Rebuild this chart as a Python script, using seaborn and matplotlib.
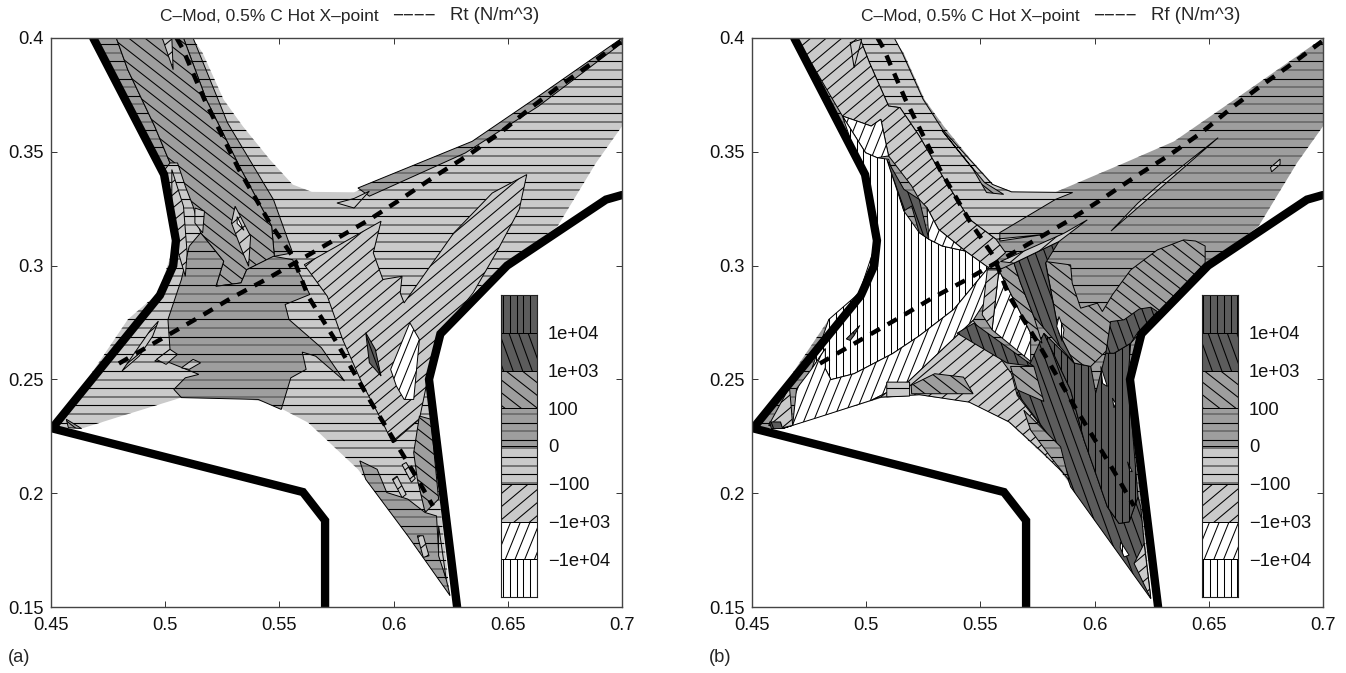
import numpy as np
import matplotlib
matplotlib.use('Agg')
import matplotlib.pyplot as plt
from matplotlib.collections import LineCollection
from matplotlib.patches import Polygon
from matplotlib.transforms import IdentityTransform
import pandas as pd
import seaborn as sns

# ---- axis and legend text
x_ticks = [0.45, 0.5, 0.55, 0.6, 0.65, 0.7]
y_ticks = [0.15, 0.2, 0.25, 0.3, 0.35, 0.4]
x_tick_labels = ['0.45', '0.5', '0.55', '0.6', '0.65', '0.7']
y_tick_labels = ['0.15', '0.2', '0.25', '0.3', '0.35', '0.4']
legend_labels = ['\u22121e+04', '\u22121e+03', '\u2212100', '0', '100', '1e+03', '1e+04']

# ---- wall and separatrix
wall_in = [(.4685, .4), (.4995, .34), (.5047, .311), (.5035, .3), (.4977, .287), (.4505, .2285),
           (.5603, .2005), (.57, .188), (.57, .15)]
wall_out = [(.6278, .15), (.6155, .25), (.6205, .27), (.6497, .30), (.693, .329), (.70, .331)]
sep_leg1 = [(.505, .4), (.5075, .3956), (.5172, .3729), (.5323, .3422), (.5458, .3187), (.5558, .3041),
            (.5626, .2865), (.5693, .2756), (.5743, .2675), (.5827, .2529), (.5911, .2383), (.6004, .223),
            (.6088, .2091), (.6172, .1944)]
sep_leg2 = [(.6995, .3985), (.6869, .389), (.6726, .3788), (.66, .3693), (.6466, .3583), (.6331, .3488),
            (.618, .3392), (.6029, .329), (.5894, .3202), (.5743, .3114), (.5592, .3026), (.5441, .2939),
            (.529, .2858), (.5155, .2777), (.5004, .269), (.4928, .2646), (.4777, .2558)]

# ---- plasma domain, same in both panels
domain = [(.4685, .4), (.512, .4), (.5164, .3934), (.5256, .3729), (.534, .3612), (.5458, .3466), (.5558, .3356),
          (.5642, .3324), (.5827, .3322), (.613, .3451), (.6348, .3546), (.6634, .3744), (.7, .4), (.7, .3612),
          (.6886, .3451), (.6718, .3173), (.65, .3012), (.6348, .288), (.6197, .269), (.6146, .2485), (.6247, .155),
          (.6062, .1813), (.5844, .2105), (.5626, .231), (.5458, .2398), (.5239, .243), (.5071, .242), (.4786, .2332),
          (.4634, .2284), (.4517, .2288), (.4836, .2763), (.497, .288), (.5038, .3085), (.4987, .3392)]

# ---- panel (a) Rt regions
rt_top_strip = [(.5844, .3341), (.6344, .3546), (.6634, .3744), (.7, .4), (.7, .3978), (.6634, .37), (.6314, .3495),
                (.5894, .3305)]
rt_sliver = [(.5752, .3275), (.5827, .3295), (.5894, .3327), (.5827, .3253)]
rt_wall_strip = [(.4685, .4), (.4786, .4), (.4836, .3861), (.4954, .3612), (.5021, .3451), (.4987, .3407)]
rt_a = [(.4786, .4), (.508, .4), (.518, .3729), (.5332, .3422), (.5466, .3173), (.5478, .3041), (.5357, .2982),
        (.5332, .2924), (.5222, .2909), (.5256, .3019), (.5155, .3144), (.5122, .3261), (.5088, .3349), (.5054, .3451),
        (.5021, .3451), (.4954, .3612), (.4836, .3861)]
rt_thin = [(.508, .4), (.5122, .4), (.5273, .3627), (.5474, .329), (.5558, .3056), (.5478, .3041), (.5466, .3173),
           (.5332, .3422), (.518, .3729)]
rt_b = [(.5474, .3041), (.5558, .3026), (.5633, .2873), (.5525, .2829), (.5542, .2763), (.5684, .2639), (.5785, .2493),
        (.5659, .2602), (.56, .262), (.5617, .2544), (.555, .2507), (.5508, .2368), (.5407, .2412), (.5071, .242),
        (.5038, .2456), (.5088, .2507), (.5147, .2522), (.5021, .2573), (.4954, .258), (.5021, .2632), (.5012, .2763),
        (.5071, .2939), (.5105, .3085), (.5155, .3144), (.5256, .3019), (.5222, .2909), (.5332, .2924), (.5357, .2982)]
rt_c = [(.5609, .3004), (.5945, .3195), (.5911, .3056), (.5953, .2939), (.6037, .2953), (.6029, .288), (.6046, .2836),
        (.6264, .3144), (.6432, .3319), (.6583, .34), (.655, .3246), (.6449, .3056), (.6348, .288), (.6197, .269),
        (.6146, .2485), (.6113, .2325), (.5995, .2222), (.5945, .2325), (.5861, .2485), (.5777, .2675), (.571, .2865)]
rt_white = [(.5987, .2544), (.6071, .2749), (.6113, .2675), (.6088, .2412), (.6046, .2412), (.6012, .2471)]
rt_dark = [(.5878, .2705), (.592, .2632), (.5945, .2515), (.5894, .2573)]
rt_strip_d = [(.6113, .2339), (.6163, .2325), (.6197, .1974), (.6138, .1915), (.6104, .2061), (.6088, .2178)]
rt_e = [(.5852, .2142), (.5928, .2105), (.597, .2003), (.6062, .1974), (.6138, .1915), (.6188, .19), (.6197, .174),
        (.623, .1623), (.6247, .155), (.6062, .1813), (.5878, .2061)]
rt_tip_strip = [(.6197, .1857), (.6214, .174), (.623, .1623), (.6197, .1725)]
rt_p1 = [(.5029, .3422), (.508, .3261), (.5096, .3056), (.5088, .2953), (.5054, .307), (.5029, .3261)]
rt_p2 = [(.5306, .3261), (.5374, .3129), (.5365, .2997), (.534, .3056), (.529, .3187)]
rt_p2w = [(.5315, .3215), (.5345, .3155), (.5315, .3185)]
rt_p3 = [(.513, .3253), (.5172, .3239), (.5164, .3144), (.513, .3187)]
rt_p4 = [(.4962, .2588), (.5021, .2632), (.5054, .261), (.5004, .2566)]
rt_p5 = [(.5071, .2551), (.5122, .2588), (.5155, .2573), (.5105, .2544)]
rt_p6 = [(.4811, .2537), (.4937, .2719), (.497, .2756), (.4945, .269), (.4886, .2602)]
rt_p7 = [(.5995, .2061), (.6037, .1981), (.6055, .1995), (.6015, .2075)]
rt_p8 = [(.6037, .2125), (.6078, .2048), (.6095, .2065), (.6055, .2135)]
rt_p9 = [(.6104, .1813), (.613, .1813), (.6155, .1725), (.613, .1718)]
rt_p10 = [(.4567, .2325), (.4634, .2284), (.4576, .2288)]
rt_p11 = [(.5029, .4), (.4987, .4), (.5035, .3861)]
rt_regions = [('z', rt_top_strip), ('m2', rt_sliver), ('z', rt_wall_strip), ('z', rt_thin), ('p2', rt_a), ('z', rt_b),
              ('m3', rt_c), ('m4', rt_white), ('p3', rt_dark), ('p2', rt_strip_d), ('z', rt_e), ('m2', rt_tip_strip),
              ('m3', rt_p1), ('m3', rt_p2), ('m4', rt_p2w), ('m2', rt_p3), ('m2', rt_p4), ('m2', rt_p5), ('m3', rt_p6),
              ('m3', rt_p7), ('m3', rt_p8), ('m3', rt_p9), ('p2', rt_p10), ('m3', rt_p11)]

# ---- panel (b) Rf regions
rf_light = [(.4972, .4), (.5123, .4), (.5157, .3936), (.5249, .3731), (.5333, .3599), (.5552, .3357), (.5636, .3324),
            (.5904, .3321), (.5829, .3291), (.5585, .3145), (.5585, .3108), (.5787, .3138), (.5568, .3116), (.5451, .3204),
            (.5333, .3394), (.5232, .357), (.5148, .3694), (.5098, .3701), (.5014, .3892)]
rf_upper = [(.4695, .4), (.4972, .4), (.5014, .3892), (.5098, .3701), (.5148, .3694), (.5232, .357), (.5333, .3394),
            (.5451, .3204), (.5568, .3116), (.561, .3057), (.5535, .2991), (.5434, .3064), (.5316, .316), (.5266, .3255),
            (.5232, .3291), (.5199, .335), (.5098, .3482), (.5064, .3643), (.5022, .3613), (.498, .3628), (.4896, .3657)]
rf_white_up = [(.4896, .3657), (.498, .3628), (.5022, .3613), (.5064, .3643), (.5098, .3482), (.5048, .3474), (.4997, .3496)]
rf_vert = [(.4896, .3657), (.4997, .3496), (.5048, .3474), (.5098, .3467), (.5165, .324), (.5232, .3145), (.5274, .3116),
           (.5333, .3086), (.5434, .3064), (.5535, .2991), (.5384, .2808), (.5232, .2691), (.5115, .2613), (.4947, .2525),
           (.4846, .2499), (.4821, .2547), (.4821, .2635), (.4762, .2547), (.4836, .2763), (.497, .288), (.5038, .3085),
           (.4987, .3392)]
rf_lobe = [(.5535, .2991), (.5518, .2838), (.5468, .2759), (.5182, .2488), (.5022, .2408), (.4786, .2332), (.4634, .2284),
           (.4678, .2298), (.4695, .2459), (.4762, .2547), (.4821, .2635), (.4821, .2547), (.4846, .2499), (.4947, .2525),
           (.5115, .2613), (.5232, .2691), (.5384, .2808)]
rf_low = [(.5022, .2408), (.5182, .2488), (.5468, .2759), (.5636, .2525), (.5661, .243), (.5837, .2203), (.5888, .2064),
          (.577, .2181), (.5626, .2313), (.5451, .24), (.5232, .2433), (.5064, .2422)]
rf_corner = [(.4573, .2298), (.4664, .2466), (.4671, .2386), (.4678, .2298), (.4625, .2285)]
rf_corner_dark = [(.4577, .2313), (.4625, .2313), (.4634, .2284), (.4585, .2284)]
rf_blob = [(.4913, .2678), (.4972, .2737), (.4947, .2693), (.493, .2671)]
rf_band = [(.509, .3467), (.5165, .3335), (.5232, .3291), (.5274, .3116), (.5232, .3145), (.5199, .3262), (.5165, .324)]
rf_white_mid = [(.5266, .3255), (.5316, .316), (.5434, .3064), (.5333, .3086), (.5274, .3116)]
rf_lens_h = [(.509, .2488), (.519, .2488), (.519, .2427), (.509, .2423)]
rf_lens = [(.5197, .2474), (.53, .2525), (.5426, .251), (.5468, .2437), (.5199, .2437)]
rf_w1 = [(.5581, .2981), (.572, .2703), (.572, .2579), (.5551, .2718)]
rf_mid = [(.553, .2981), (.5581, .2981), (.5551, .2718), (.5508, .2784)]
rf_k5 = [(.5778, .2703), (.572, .2574), (.5661, .2438), (.5837, .2204), (.5895, .2028), (.6246, .1537), (.6217, .1779),
         (.6202, .194), (.619, .1984), (.6151, .1874), (.6107, .1867), (.6056, .194), (.5954, .2233), (.5895, .2453)]
rf_k4 = [(.5778, .2703), (.591, .2572), (.5983, .2557), (.6005, .244), (.6049, .2615), (.6085, .2615), (.6158, .2659),
         (.6144, .2469), (.6151, .2453), (.619, .1984), (.6151, .1874), (.6107, .1867), (.6056, .194), (.5954, .2233),
         (.5895, .2453)]
rf_k2_side = [(.5581, .2981), (.5647, .3011), (.5676, .2923), (.5734, .2776), (.577, .2659), (.572, .2703)]
rf_k2 = [(.5647, .3011), (.5844, .3106), (.5785, .3011), (.5844, .2703), (.591, .2572), (.5734, .2776), (.5676, .2923)]
rf_top = [(.5588, .3018), (.5866, .3142), (.5968, .3201), (.5844, .3106), (.5647, .3011)]
rf_right = [(.5785, .3018), (.5895, .3003), (.5902, .2923), (.5939, .2813), (.6012, .2835), (.6034, .2798), (.6078, .2872),
            (.6158, .2981), (.6275, .3069), (.639, .3113), (.6442, .3108), (.6484, .3086), (.6484, .3013), (.6291, .2808),
            (.6158, .2659), (.6056, .263), (.5983, .2557), (.591, .2572), (.5844, .2703)]
rf_k3 = [(.6049, .2615), (.607, .2754), (.6129, .2762), (.6195, .2809), (.6246, .2817), (.6275, .2798), (.6187, .2703),
         (.6158, .2659), (.6085, .2615)]
rf_k1 = [(.5398, .2703), (.5471, .2747), (.5734, .2557), (.5617, .2572)]
rf_k1_tail = [(.5632, .2557), (.5734, .2557), (.5778, .2403), (.5661, .2454)]
rf_stairs = [(.569, .2365), (.5851, .2204), (.5888, .2057), (.5807, .216), (.572, .2277)]
rf_tip = [(.6173, .1691), (.6217, .1779), (.6246, .1537)]
rf_wedge_out = [(.6072, .3152), (.6541, .3562), (.6291, .3363), (.619, .3275)]
rf_chip = [(.677, .3431), (.6812, .3468), (.6812, .3445), (.6775, .3412)]
rf_edge = [(.5333, .3592), (.5518, .3365), (.5602, .3313), (.5527, .3321), (.5468, .3423)]
rf_spike = [(.493, .398), (.4947, .387), (.498, .3994)]
rf_w2 = [(.5844, .2776), (.5866, .2718), (.5858, .2667), (.5834, .2733)]
rf_w3 = [(.6027, .2557), (.6056, .2469), (.6035, .2482)]
rf_w4 = [(.6078, .2418), (.6092, .2395), (.6085, .2375)]
rf_w5 = [(.6114, .1786), (.6151, .1728), (.6129, .172), (.6112, .1762)]
rf_w6 = [(.6144, .2138), (.6165, .2094), (.6154, .2098)]
rf_regions = [('m2', rf_light), ('m3', rf_upper), ('m4', rf_white_up), ('m5', rf_vert), ('m4', rf_lobe), ('m3', rf_low),
              ('m3', rf_corner), ('p3', rf_corner_dark), ('p3', rf_blob), ('p3', rf_band), ('m4', rf_white_mid),
              ('m2', rf_lens_h), ('p2', rf_lens), ('m4', rf_w1), ('m3', rf_mid), ('p3', rf_k5), ('p4', rf_k4),
              ('p2', rf_k2_side), ('p2', rf_right), ('p3', rf_k2), ('m3', rf_top), ('p3', rf_k3), ('p3', rf_k1),
              ('p2', rf_k1_tail), ('z', rf_stairs), ('m3', rf_tip), ('m2', rf_wedge_out), ('m2', rf_chip),
              ('p2', rf_edge), ('m3', rf_spike), ('m5', rf_w2), ('m5', rf_w3), ('m5', rf_w4), ('m5', rf_w5), ('m5', rf_w6)]

# level -> fill grey, hatch angle in degrees, hatch spacing in pixels
level_style = {
    'p4': ('#5c5c5c', 90, 6.8),
    'p3': ('#5c5c5c', -70, 9.0),
    'p2': ('#9e9e9e', -38, 10.0),
    'z': ('#9e9e9e', 0, 8.6),
    'm2': ('#cacaca', 0, 8.6),
    'm3': ('#cacaca', 40, 10.0),
    'm4': ('#ffffff', 68, 9.0),
    'm5': ('#ffffff', 90, 6.8),
}
legend_cells = ['m5', 'm4', 'm3', 'm2', 'z', 'p2', 'p3', 'p4']

sns.set_style('white')
plt.rcParams['font.family'] = ['Liberation Sans', 'DejaVu Sans']

W, H = 1346, 673
fig = plt.figure(figsize=(W / 100, H / 100), dpi=100)


def hatch_region(ax, pts, level, z, edge=True):
    # fill + own hatch lines, clipped by the patch (steep angles aren't in mpl hatches)
    color, angle, step = level_style[level]
    patch = Polygon(pts, closed=True, facecolor=color, edgecolor='none', transform=ax.transData, zorder=z)
    ax.add_patch(patch)
    a = np.radians(angle)
    d = np.array([np.cos(a), np.sin(a)])
    n = np.array([-d[1], d[0]])
    c = np.array([W / 2, H / 2])
    offs = np.arange(-190, 191) * step
    segs = [[c + o * n - 1600 * d, c + o * n + 1600 * d] for o in offs]
    if angle == 0:
        # scan resampling makes every second line a wide grey one
        lines = LineCollection(segs[0::2], colors='black', linewidths=0.8, transform=IdentityTransform(), zorder=z + 0.1)
        greys = LineCollection(segs[1::2], colors='#6e6e6e', linewidths=1.3, transform=IdentityTransform(), zorder=z + 0.1)
        ax.add_collection(greys, autolim=False)
        greys.set_clip_path(patch)
    else:
        lines = LineCollection(segs, colors='black', linewidths=0.75, transform=IdentityTransform(), zorder=z + 0.1)
    ax.add_collection(lines, autolim=False)
    lines.set_clip_path(patch)
    if edge:
        ax.add_patch(Polygon(pts, closed=True, fill=False, edgecolor='black', linewidth=0.7, zorder=z + 0.2))


def draw_panel(left_px, base_level, regions, title_name, tag, tag_px):
    ax = fig.add_axes([left_px / W, (H - 607) / H, 571 / W, 569 / H])
    ax.set_xlim(0.45, 0.7)
    ax.set_ylim(0.15, 0.4)

    hatch_region(ax, domain, base_level, 2, edge=False)
    for i, (level, pts) in enumerate(regions):
        hatch_region(ax, pts, level, 3 + i)
    top = 4 + len(regions)

    # separatrix and wall through seaborn
    for leg in (sep_leg1, sep_leg2):
        df = pd.DataFrame(leg, columns=['R', 'Z'])
        sns.lineplot(data=df, x='R', y='Z', sort=False, estimator=None, color='black', ax=ax, linewidth=3.2,
                     linestyle=(0, (2.4, 2.0)), dash_capstyle='butt', zorder=top)
    for part in (wall_in, wall_out):
        df = pd.DataFrame(part, columns=['R', 'Z'])
        sns.lineplot(data=df, x='R', y='Z', sort=False, estimator=None, color='black', ax=ax, linewidth=6,
                     solid_joinstyle='miter', zorder=top + 1)

    ax.set_xlabel('')
    ax.set_ylabel('')
    ax.set_xticks(x_ticks)
    ax.set_xticklabels(x_tick_labels)
    ax.set_yticks(y_ticks)
    ax.set_yticklabels(y_tick_labels)
    ax.tick_params(direction='in', length=4.5, width=0.7, color='#333333', top=True, right=True, bottom=True, left=True,
                   labelsize=13.2, pad=5, labelcolor='#111111')
    ax.tick_params(axis='x', pad=7)
    for s in ax.spines.values():
        s.set_linewidth(1.0)
        s.set_color('#444444')
        s.set_zorder(top + 3)

    # legend strip
    leg_ax = ax.inset_axes([450 / 571, 10 / 569, 36 / 571, 302 / 569], zorder=top + 2)
    leg_ax.set_xlim(0, 1)
    leg_ax.set_ylim(0, len(legend_cells))
    for i, level in enumerate(legend_cells):
        hatch_region(leg_ax, [(0, i), (1, i), (1, i + 1), (0, i + 1)], level, 2 + i)
    leg_ax.set_xticks([])
    leg_ax.set_yticks(np.arange(1, len(legend_cells)))
    leg_ax.set_yticklabels(legend_labels)
    leg_ax.yaxis.tick_right()
    leg_ax.tick_params(axis='y', length=0, pad=8, labelsize=13.2, labelcolor='#111111')
    for s in leg_ax.spines.values():
        s.set_linewidth(0.8)
        s.set_color('#222222')
        s.set_zorder(20)

    fig.text((left_px + 109) / W, (H - 16) / H, 'C\u2013Mod, 0.5% C Hot X\u2013point', fontsize=12.5, va='center', ha='left')
    fig.text((left_px + 341) / W, (H - 16) / H, '\u2212\u2212\u2212\u2212', fontsize=13.4, va='center', ha='left')
    fig.text((left_px + 399) / W, (H - 16) / H, title_name, fontsize=13.4, va='center', ha='left')
    fig.text(tag_px / W, (H - 657) / H, tag, fontsize=13.2, va='center', ha='left')
    return ax


draw_panel(51, 'm2', rt_regions, 'Rt (N/m^3)', '(a)', 8)
draw_panel(752, 'z', rf_regions, 'Rf (N/m^3)', '(b)', 709)

fig.savefig('out.png', dpi=100)
